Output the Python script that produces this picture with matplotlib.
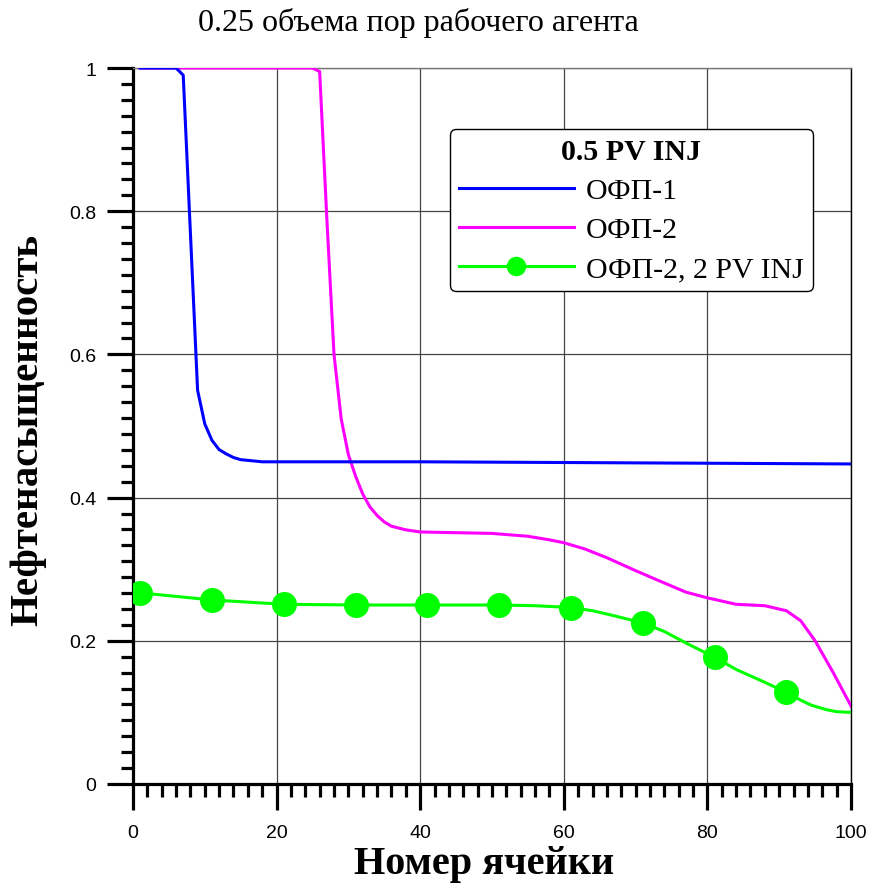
import numpy as np
import matplotlib
matplotlib.use("Agg")
import matplotlib.pyplot as plt
from matplotlib.ticker import MultipleLocator, FixedLocator

# ОФП-1 (blue)
ofp1_x = [1, 6, 7, 8, 9, 10, 11, 12, 13, 14, 15, 16, 17, 18, 20, 40, 60, 80, 100]
ofp1_y = [1.0, 1.0, 0.99, 0.77, 0.55, 0.503, 0.48, 0.467, 0.461, 0.456, 0.453, 0.452, 0.451, 0.450,
          0.450, 0.450, 0.449, 0.448, 0.447]

# ОФП-2 (magenta)
ofp2_x = [1, 25, 26, 27, 28, 29, 30, 31, 32, 33, 34, 35, 36, 38, 40, 45, 50, 55, 58, 60, 63, 66,
          70, 73, 77, 80, 84, 88, 91, 93, 95, 97.5, 100]
ofp2_y = [1.0, 1.0, 0.995, 0.79, 0.60, 0.51, 0.46, 0.43, 0.405, 0.387, 0.375, 0.366, 0.36, 0.355,
          0.352, 0.351, 0.350, 0.346, 0.341, 0.337, 0.328, 0.316, 0.298, 0.285, 0.268, 0.260,
          0.251, 0.249, 0.242, 0.228, 0.2, 0.156, 0.109]

# ОФП-2, 2 PV INJ (green)
ofp2b_x = [1, 6, 11, 16, 21, 26, 31, 36, 41, 46, 51, 56, 61, 64, 67, 71, 74, 77, 81, 84, 86,
           88, 91, 93, 94.5, 96.5, 98, 100]
ofp2b_y = [0.267, 0.262, 0.257, 0.254, 0.251, 0.2505, 0.250, 0.250, 0.250, 0.250, 0.250, 0.249,
           0.2465, 0.242, 0.235, 0.225, 0.213, 0.197, 0.177, 0.160, 0.151, 0.142, 0.128, 0.117,
           0.110, 0.104, 0.101, 0.100]
marker_cells = [1, 11, 21, 31, 41, 51, 61, 71, 81, 91]

title = "0.25 объема пор рабочего агента"
legend_title = "0.5 PV INJ"
labels = ["ОФП-1", "ОФП-2", "ОФП-2, 2 PV INJ"]

serif = "Liberation Serif"
sans = "Liberation Sans"

fig = plt.figure(figsize=(8.73, 8.87), dpi=100)
ax = fig.add_axes([0.1523, 0.115, 0.8225, 0.8072])

ax.plot(ofp1_x, ofp1_y, color="#0000ff", lw=2.2, label=labels[0], zorder=4)
ax.plot(ofp2_x, ofp2_y, color="#ff00ff", lw=2.2, label=labels[1], zorder=3)
mk = [ofp2b_x.index(c) for c in marker_cells]
ax.plot(ofp2b_x, ofp2b_y, color="#00ff00", lw=2.2, marker="o", ms=17, markevery=mk,
        label=labels[2], zorder=5)

ax.set_xlim(0, 100)
ax.set_ylim(0, 1)
ax.xaxis.set_major_locator(MultipleLocator(20))
ax.xaxis.set_minor_locator(MultipleLocator(2))
ax.yaxis.set_major_locator(MultipleLocator(0.2))
ax.yaxis.set_minor_locator(FixedLocator(np.arange(0, 1.0001, 0.2 / 9)))
ax.yaxis.set_major_formatter(matplotlib.ticker.FuncFormatter(lambda v, p: "%g" % round(v, 2)))

ax.grid(True, which="major", color="#444444", lw=0.9)
for s in ["left", "bottom"]:
    ax.spines[s].set_linewidth(2.3)
    ax.spines[s].set_color("black")
ax.spines["top"].set_color("#777777")
ax.spines["top"].set_linewidth(1.0)
ax.spines["right"].set_color("black")
ax.spines["right"].set_linewidth(1.0)
ax.tick_params(which="major", direction="out", length=18.5, width=2.3, labelsize=14)
ax.tick_params(which="minor", direction="out", length=9, width=2.3)
ax.tick_params(axis="y", which="major", pad=8)
ax.tick_params(axis="x", which="major", pad=10)
for lab in ax.get_xticklabels() + ax.get_yticklabels():
    lab.set_fontfamily(sans)

ax.set_xlabel("Номер ячейки", fontfamily=serif, fontweight="bold", fontsize=29)
ax.xaxis.set_label_coords(0.489, -0.085)
ax.set_ylabel("Нефтенасыщенность", fontfamily=serif, fontweight="bold", fontsize=29.5,
              va="center")
ax.yaxis.set_label_coords(-0.147, 0.496)
fig.text(0.479, 0.974, title, fontfamily=serif, fontsize=23, ha="center", va="center")

leg = ax.legend(loc="upper left", bbox_to_anchor=(0.4415, 0.9148), frameon=True, fancybox=True,
                title=legend_title, handlelength=3.85, borderpad=0.3, labelspacing=0.41,
                handletextpad=0.4, borderaxespad=0,
                prop={"family": serif, "size": 21.5},
                title_fontproperties={"family": serif, "weight": "bold", "size": 21.5})
leg.get_frame().set_edgecolor("black")
leg.get_frame().set_linewidth(1.0)
leg.get_frame().set_alpha(1)
for h in leg.legend_handles:
    h.set_markersize(13)

fig.savefig("out.png", dpi=100)
